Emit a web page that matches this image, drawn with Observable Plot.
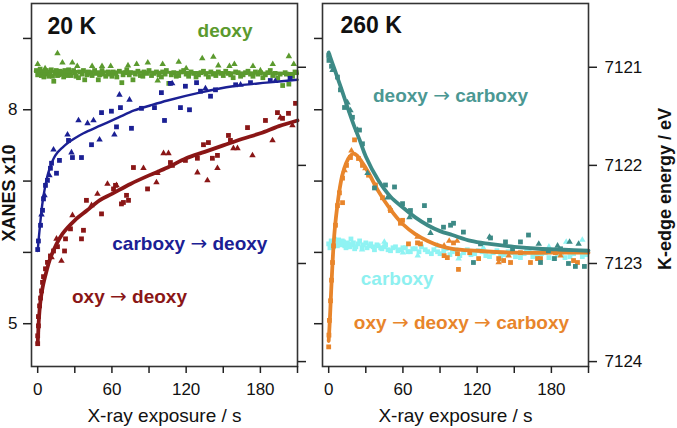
<!DOCTYPE html>
<html><head><meta charset="utf-8">
<script src="https://cdn.jsdelivr.net/npm/d3@7"></script>
<script src="https://cdn.jsdelivr.net/npm/@observablehq/plot@0.6"></script>
<style>
body{margin:0;background:#fff;}
#wrap{display:flex;width:677px;height:428px;overflow:hidden;}
</style></head><body><div id="wrap"></div>
<script>
// ---------- axis definitions ----------
const xTicks = [0, 30, 60, 90, 120, 150, 180, 210];
const xTickLabels = [0, 60, 120, 180];
const xanesTicks = [5, 6, 7, 8, 9];
const xanesTickLabels = [5, 8];
const energyTicks = [7121, 7122, 7123, 7124];
const xDomain = [-5, 210];
const xanesDomain = [4.4, 9.49];
const energyDomain = [7120.35, 7124.05];

// ---------- 20 K panel (XANES x10) ----------
const deoxy20Fit = [[-2, 8.54], [210, 8.51]];
const deoxy20Squares = [[-1,8.55],[0,8.49],[1,8.50],[2,8.57],[3,8.48],[4,8.53],[5,8.46],[6,8.52],[7,8.55],[8,8.50],[9,8.47],[10,8.52],[11,8.56],[12,8.47],[13,8.40],[14,8.51],[15,8.55],[16,8.48],[17,8.49],[18,8.54],[19,8.53],[20,8.50],[21,8.46],[22,8.55],[23,8.51],[24,8.48],[25,8.56],[26,8.52],[27,8.48],[29,8.55],[30,8.52],[31,8.47],[33,8.45],[34,8.53],[36,8.50],[37,8.55],[38,8.42],[40,8.49],[41,8.53],[43,8.51],[44,8.48],[46,8.55],[47,8.51],[49,8.42],[50,8.49],[52,8.55],[53,8.50],[55,8.47],[57,8.53],[58,8.50],[60,8.47],[61,8.53],[63,8.51],[64,8.46],[66,8.54],[68,8.38],[69,8.49],[71,8.52],[72,8.56],[74,8.49],[75,8.52],[77,8.42],[79,8.50],[81,8.54],[83,8.48],[85,8.47],[86,8.53],[88,8.51],[90,8.55],[92,8.48],[94,8.51],[96,8.53],[98,8.49],[100,8.46],[101,8.53],[103,8.50],[104,8.55],[106,8.37],[108,8.49],[110,8.52],[112,8.47],[114,8.48],[116,8.53],[118,8.55],[120,8.50],[122,8.47],[124,8.53],[126,8.51],[128,8.46],[130,8.49],[132,8.52],[134,8.54],[136,8.50],[138,8.46],[140,8.53],[142,8.50],[144,8.48],[146,8.53],[148,8.51],[150,8.48],[152,8.54],[154,8.51],[156,8.49],[158,8.45],[160,8.53],[162,8.52],[164,8.47],[166,8.49],[168,8.52],[170,8.54],[172,8.50],[174,8.47],[176,8.53],[178,8.50],[180,8.52],[182,8.45],[184,8.49],[186,8.52],[188,8.55],[190,8.48],[192,8.51],[194,8.44],[196,8.50],[198,8.34],[200,8.52],[201,8.50],[203,8.36],[204,8.49],[206,8.47],[208,8.53],[209,8.52]];
const deoxy20Triangles = [[0,8.64],[6,8.58],[16,8.79],[20,8.66],[28,8.66],[32,8.61],[44,8.61],[52,8.61],[59,8.61],[73,8.62],[80,8.64],[89,8.66],[97,8.41],[101,8.64],[114,8.67],[120,8.58],[133,8.72],[142,8.74],[146,8.62],[155,8.61],[159,8.64],[174,8.61],[180,8.55],[190,8.64],[203,8.75],[207,8.64]];

const carbToDeoxyFit = [[0,6.02],[1,6.22],[2,6.40],[3,6.57],[4,6.71],[6,6.92],[8,7.08],[10,7.19],[13,7.32],[16,7.40],[20,7.47],[24,7.53],[30,7.60],[37,7.67],[51,7.78],[65,7.89],[78,7.99],[91,8.06],[105,8.13],[131,8.24],[158,8.33],[185,8.38],[210,8.42]];
const carbToDeoxySquares = [[0,6.04],[0.6,6.16],[2.3,6.38],[3.9,6.59],[4.7,6.75],[6.3,6.94],[7.9,7.01],[10.3,7.18],[11.2,7.25],[15.2,7.11],[17.6,7.29],[24.9,7.57],[28.1,7.33],[35.4,7.33],[43.5,7.51],[51.6,7.96],[59.6,7.98],[63.7,7.76],[66.9,8.03],[75.8,7.74],[83.9,8.02],[94.4,8.03],[100,8.24],[102.5,7.85],[107.3,8.37],[115.4,8.03],[119.4,8.33],[122.7,8.00],[128.4,8.38],[131.6,8.26],[139.7,8.19],[143.7,8.28],[160,8.35],[172,8.38],[188,8.41],[204,8.44]];
const carbToDeoxyTriangles = [[3.1,6.53],[5.5,6.80],[9.5,7.08],[12.8,7.44],[24.1,7.65],[27.3,7.40],[33,7.85],[40.3,7.81],[45.1,7.85],[50,7.58],[62,7.65],[66.1,8.21],[74.2,8.14],[108.7,8.37],[135.6,8.30],[164,8.35],[192,8.40]];

const oxyToDeoxyFit = [[0,4.72],[0.5,4.90],[1,5.07],[2,5.28],[3,5.41],[4,5.51],[5,5.59],[7,5.73],[10,5.91],[15,6.11],[20,6.26],[30,6.45],[40,6.59],[50,6.73],[60,6.82],[75,6.96],[90,7.08],[105,7.19],[120,7.32],[135,7.41],[150,7.50],[165,7.59],[180,7.67],[195,7.77],[210,7.85]];
const oxyToDeoxySquares = [[0,4.72],[0,4.83],[0.6,4.97],[0.6,5.10],[1.5,5.25],[2.3,5.36],[3.1,5.46],[3.9,5.58],[4.7,5.66],[6.3,5.77],[7.9,5.86],[10.3,5.95],[12.8,6.02],[16,6.08],[21.7,6.02],[22.5,6.19],[26.5,6.33],[35.4,6.19],[37,6.31],[39.4,6.73],[51.6,6.54],[61.3,6.89],[62.9,6.94],[67.7,6.68],[69.3,6.70],[73.4,6.73],[71.8,6.80],[77.4,7.19],[88.8,6.89],[107.3,7.26],[108.9,7.22],[119.4,7.29],[129.1,7.32],[134,7.51],[138,7.54],[141.2,7.32],[145.3,7.36],[154.2,7.64],[155.8,7.57],[169.6,7.75],[184.1,7.85],[193.8,7.96],[197.9,7.88],[202.7,7.95],[208.4,8.09]];
const oxyToDeoxyTriangles = [[11.2,5.93],[15.2,6.19],[19.2,5.88],[28.1,6.52],[43.5,6.66],[48.3,6.82],[56.4,6.96],[63.7,6.94],[85.5,7.18],[96,6.98],[96.8,7.11],[101.7,7.39],[105.7,7.39],[129.1,7.12],[137.2,7.01],[145.3,7.18],[158.2,7.46],[161.5,7.46],[173.6,7.36],[189.8,7.57],[196.2,7.89],[205.9,7.78]];

// ---------- 260 K panel (K-edge energy / eV) ----------
const deoxyToCarbFit = [[0,7120.85],[5,7121.03],[10,7121.21],[15,7121.40],[20,7121.58],[25,7121.74],[30,7121.91],[40,7122.15],[50,7122.32],[60,7122.43],[70,7122.53],[80,7122.61],[90,7122.67],[100,7122.71],[115,7122.77],[130,7122.80],[150,7122.83],[170,7122.85],[190,7122.86],[210,7122.87]];
const deoxyToCarbSquares = [[0,7120.88],[0.2,7120.93],[2.3,7120.99],[7.1,7121.10],[9.5,7121.23],[12.8,7121.41],[19.2,7121.51],[24.9,7121.64],[27.3,7121.78],[37,7122.23],[45.9,7122.20],[53.2,7122.22],[59.7,7122.39],[66.1,7122.46],[77.4,7122.41],[81.5,7122.56],[92.8,7122.63],[98.5,7122.61],[100.9,7122.59],[108.9,7122.68],[117,7122.99],[122.7,7122.80],[130.8,7122.74],[142.9,7122.78],[148.6,7122.85],[155,7122.78],[161.5,7122.71],[171.2,7122.99],[177.6,7122.87],[182.5,7122.95],[187.4,7122.85],[193.8,7123.00],[199.4,7123.03],[206.7,7123.03]];
const deoxyToCarbTriangles = [[3.1,7121.03],[15.2,7121.36],[17.6,7121.44],[23.3,7121.64],[31.4,7122.08],[47.5,7122.33],[65.3,7122.53],[82.3,7122.69],[130,7122.73],[169.8,7122.80],[185,7122.82],[194.7,7122.78],[202,7122.80]];

const oxyToCarbFit = [[0,7123.79],[1,7123.56],[2,7123.28],[3,7123.02],[4,7122.80],[5,7122.64],[7,7122.41],[9,7122.23],[11,7122.10],[14,7121.98],[17,7121.91],[20,7121.88],[23,7121.90],[27,7121.97],[32,7122.07],[40,7122.26],[50,7122.45],[60,7122.60],[70,7122.70],[80,7122.77],[90,7122.82],[100,7122.85],[120,7122.87],[150,7122.89],[180,7122.89],[210,7122.89]];
const oxyToCarbSquares = [[0,7123.85],[0.2,7123.73],[0.6,7123.58],[1.5,7123.38],[2.3,7123.17],[3.1,7122.99],[3.9,7122.82],[5.5,7122.61],[7.1,7122.41],[8.7,7122.28],[11.2,7122.13],[11.2,7122.38],[14.4,7122.00],[17.6,7121.92],[20.9,7121.74],[24.1,7121.93],[27.3,7122.00],[32.2,7122.10],[37.8,7122.20],[43.5,7122.33],[49.9,7122.46],[58,7122.59],[59.7,7122.56],[64.5,7122.80],[71.8,7122.79],[74.2,7122.80],[93.3,7122.92],[95.9,7122.94],[100.9,7122.79],[104.1,7122.90],[104.9,7123.06],[114,7122.89],[121.2,7122.95],[137.4,7122.95],[141.4,7122.97],[147,7122.99],[155,7122.89],[163.1,7122.99],[168.8,7122.95],[171.2,7122.95],[183.3,7122.89],[197.9,7122.97],[201.1,7122.99]];
const oxyToCarbTriangles = [[12.8,7122.05],[18.4,7121.85],[29.7,7122.03],[49.9,7122.44],[71.8,7122.73],[93.3,7122.82],[97.4,7122.77],[103.8,7122.77],[137.4,7122.99],[145.5,7122.92],[187.4,7122.92]];

const carboxySquares = [[0,7122.80],[1,7122.84],[2,7122.77],[3,7122.81],[4,7122.83],[5,7122.78],[6,7122.79],[7,7122.82],[8,7122.76],[9,7122.80],[10,7122.81],[11,7122.77],[12,7122.78],[13,7122.82],[14,7122.84],[15,7122.79],[16,7122.80],[17,7122.83],[18,7122.75],[19,7122.81],[20,7122.79],[21,7122.85],[22,7122.83],[24,7122.80],[25,7122.77],[27,7122.84],[28,7122.81],[30,7122.79],[31,7122.84],[33,7122.82],[34,7122.80],[36,7122.83],[37,7122.86],[39,7122.81],[40,7122.82],[42,7122.84],[43,7122.85],[45,7122.83],[46,7122.81],[48,7122.86],[50,7122.87],[52,7122.84],[54,7122.83],[56,7122.87],[58,7122.86],[60,7122.84],[62,7122.84],[64,7122.88],[66,7122.88],[68,7122.85],[70,7122.85],[73,7122.88],[75,7122.83],[78,7122.86],[80,7122.88],[83,7122.90],[85,7122.86],[88,7122.88],[90,7122.90],[93,7122.87],[95,7122.85],[98,7122.91],[100,7122.88],[103,7122.86],[106,7122.92],[109,7122.89],[112,7122.86],[115,7122.91],[118,7122.90],[121,7122.87],[124,7122.88],[127,7122.92],[130,7122.93],[133,7122.89],[136,7122.87],[139,7122.92],[142,7122.91],[145,7122.88],[148,7122.89],[151,7122.93],[155,7122.94],[158,7122.90],[162,7122.88],[165,7122.93],[168,7122.92],[172,7122.90],[175,7122.89],[178,7122.94],[182,7122.95],[185,7122.91],[188,7122.90],[191,7122.94],[195,7122.93],[198,7122.90],[202,7122.88],[205,7122.93],[208,7122.91]];
const carboxyTriangles = [[5,7122.74],[15,7122.82],[27,7122.86],[45,7122.78],[60,7122.89],[72,7122.92],[88,7122.82],[105,7122.95],[125,7122.84],[140,7122.96],[160,7122.86],[178,7122.83],[192,7122.78],[205,7122.76]];

// ---------- colours ----------
const GREEN = "#5b9a2e", BLUE = "#1b2094", RED = "#8a1616", TEAL = "#3d8a86", TEAL_TXT = "#4b9893", ORANGE = "#e8852b", CYAN = "#8ff3f3", CYAN_TXT = "#8ef0f0";
const FONT = "'Liberation Sans', Arial, sans-serif";

// ---------- helpers ----------
const pts = arr => arr.map(([t, v]) => ({t, v}));
// both y axes share the same pixel extent; energy axis is reversed
const eToX = e => xanesDomain[0] + (energyDomain[1] - e) / (energyDomain[1] - energyDomain[0]) * (xanesDomain[1] - xanesDomain[0]);
const xToE = x => energyDomain[1] - (x - xanesDomain[0]) / (xanesDomain[1] - xanesDomain[0]) * (energyDomain[1] - energyDomain[0]);

function series(fit, squares, triangles, color, lw) {
  const m = [];
  m.push(Plot.dot(pts(squares), {x: "t", y: "v", symbol: "square", r: 2.7, fill: color, stroke: "none"}));
  m.push(Plot.dot(pts(triangles), {x: "t", y: "v", symbol: "triangle", r: 2.4, fill: color, stroke: "none"}));
  if (fit) m.push(Plot.line(pts(fit), {x: "t", y: "v", stroke: color, strokeWidth: lw, curve: "catmull-rom"}));
  return m;
}
function xAxisMarks() {
  return [
    Plot.axisX({ticks: xTicks, tickSize: 7, tickPadding: 9, strokeWidth: 1.5, stroke: "#222", fill: "#111",
      tickFormat: d => xTickLabels.includes(d) ? String(d) : "", label: null}),
    Plot.text(["X-ray exposure / s"], {frameAnchor: "bottom", dy: 49, textAnchor: "middle", lineAnchor: "middle", fontSize: 19, fill: "#111"})
  ];
}

const labels20 = [
  {text: "deoxy", t: 151.4, v: 9.10, color: GREEN},
  {text: "carboxy \u2192 deoxy", t: 123, v: 6.12, color: BLUE},
  {text: "oxy \u2192 deoxy", t: 74.2, v: 5.37, color: RED}
];
const labels260 = [
  {text: "deoxy \u2192 carboxy", t: 98.5, v: 7121.29, color: TEAL_TXT},
  {text: "carboxy", t: 55.4, v: 7123.16, color: CYAN_TXT},
  {text: "oxy \u2192 deoxy \u2192 carboxy", t: 107.3, v: 7123.61, color: ORANGE}
];

const common = {height: 428, marginTop: 3, marginBottom: 62,
  style: {fontFamily: FONT, fontSize: "17px", color: "#111", background: "#fff", overflow: "visible"}};

const left = Plot.plot({
  ...common, width: 310, marginLeft: 31, marginRight: 13,
  x: {domain: xDomain},
  y: {domain: xanesDomain},
  marks: [
    ...series(deoxy20Fit, deoxy20Squares, deoxy20Triangles, GREEN, 3),
    ...series(carbToDeoxyFit, carbToDeoxySquares, carbToDeoxyTriangles, BLUE, 2.4),
    ...series(oxyToDeoxyFit, oxyToDeoxySquares, oxyToDeoxyTriangles, RED, 3.8),
    Plot.frame({stroke: "#333", strokeWidth: 1.6}),
    ...xAxisMarks(),
    Plot.axisY({anchor: "left", ticks: xanesTicks, tickSize: 8, tickPadding: 6, strokeWidth: 1.5, stroke: "#222", fill: "#111",
      tickFormat: d => xanesTickLabels.includes(d) ? String(d) : "", label: null}),
    Plot.axisY({anchor: "right", ticks: energyTicks.map(eToX), tickSize: 8, strokeWidth: 1.5, stroke: "#222", tickFormat: () => "", label: null}),
    Plot.text(["XANES x10"], {frameAnchor: "left", rotate: -90, dx: -22, dy: 8, textAnchor: "middle", lineAnchor: "middle", fontSize: 18, fontWeight: "bold", fill: "#111"}),
    Plot.text([{text: "20 K", t: 7.9, v: 9.17}], {x: "t", y: "v", text: "text", textAnchor: "start", lineAnchor: "middle", fontSize: 23, fontWeight: "bold", fill: "#111"}),
    Plot.text(labels20, {x: "t", y: "v", text: "text", fill: "color", textAnchor: "middle", lineAnchor: "middle", fontSize: 19, fontWeight: "bold"})
  ]
});

const right = Plot.plot({
  ...common, width: 367, marginLeft: 12, marginRight: 89,
  x: {domain: xDomain},
  y: {domain: energyDomain, reverse: true},
  marks: [
    ...series(null, carboxySquares, carboxyTriangles, CYAN, 0),
    ...series(oxyToCarbFit, oxyToCarbSquares, oxyToCarbTriangles, ORANGE, 3.8),
    ...series(deoxyToCarbFit, deoxyToCarbSquares, deoxyToCarbTriangles, TEAL, 3.8),
    Plot.frame({stroke: "#333", strokeWidth: 1.6}),
    ...xAxisMarks(),
    Plot.axisY({anchor: "left", ticks: xanesTicks.map(xToE), tickSize: 8, strokeWidth: 1.5, stroke: "#222", tickFormat: () => "", label: null}),
    Plot.axisY({anchor: "right", ticks: energyTicks, tickSize: 8, tickPadding: 8, strokeWidth: 1.5, stroke: "#222", fill: "#111",
      tickFormat: d => String(d), label: null}),
    Plot.text(["K-edge energy / eV"], {frameAnchor: "right", rotate: -90, dx: 77, dy: 4, textAnchor: "middle", lineAnchor: "middle", fontSize: 18, fontWeight: "bold", fill: "#111"}),
    Plot.text([{text: "260 K", t: 9.5, v: 7120.58}], {x: "t", y: "v", text: "text", textAnchor: "start", lineAnchor: "middle", fontSize: 23, fontWeight: "bold", fill: "#111"}),
    Plot.text(labels260, {x: "t", y: "v", text: "text", fill: "color", textAnchor: "middle", lineAnchor: "middle", fontSize: 19, fontWeight: "bold"})
  ]
});

const wrap = document.getElementById("wrap");
wrap.appendChild(left);
wrap.appendChild(right);

// render the arrows in a thin, wide glyph like the original
d3.select(wrap).selectAll("text").each(function () {
  const s = this.textContent;
  if (!s.includes("\u2192") || this.querySelector("tspan")) return;
  const parts = s.split("\u2192");
  const el = d3.select(this);
  el.text(null);
  parts.forEach((p, i) => {
    if (i > 0) el.append("tspan").attr("font-family", "'DejaVu Sans', sans-serif").attr("font-weight", "normal").attr("font-size", 20).text("\u2192");
    el.append("tspan").text(p);
  });
});
</script></body></html>
